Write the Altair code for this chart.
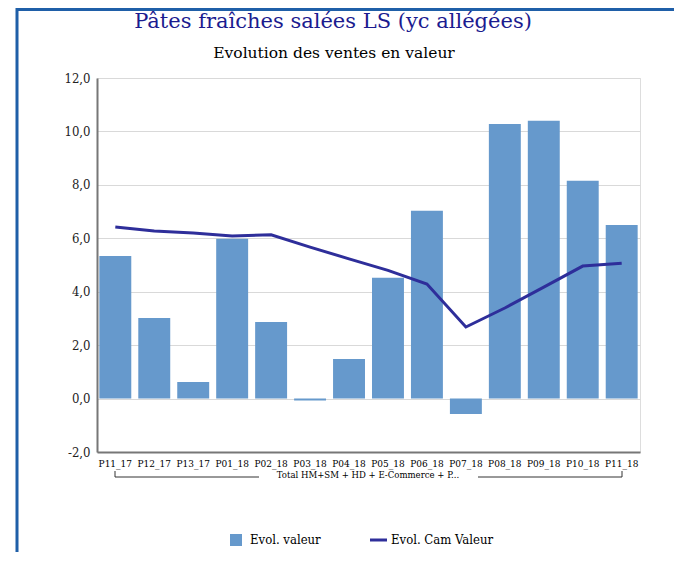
import altair as alt
import pandas as pd

periods = ["P11_17", "P12_17", "P13_17", "P01_18", "P02_18", "P03_18", "P04_18",
           "P05_18", "P06_18", "P07_18", "P08_18", "P09_18", "P10_18", "P11_18"]
evol_valeur = [5.34, 3.02, 0.62, 5.98, 2.87, -0.07, 1.48, 4.52, 7.03, -0.58, 10.28, 10.40, 8.15, 6.50]
evol_cam_valeur = [6.42, 6.27, 6.20, 6.09, 6.13, 5.67, 5.23, 4.80, 4.29, 2.68, 3.39, 4.17, 4.96, 5.07]
y_ticks = [-2, 0, 2, 4, 6, 8, 10, 12]

title_text = "Pâtes fraîches salées LS (yc allégées)"
subtitle_text = "Evolution des ventes en valeur"
group_text = "Total HM+SM + HD + E-Commerce + P..."
legend_bar = "Evol.  valeur"
legend_line = "Evol. Cam Valeur"

df = pd.DataFrame({"periode": periods, "valeur": evol_valeur, "cam": evol_cam_valeur})

W, H = 543, 374
BAR = "#6699cc"
LINE = "#2e2e9a"
FRAME = "#1f5fa8"
SERIF = "DejaVu Serif Condensed, DejaVu Serif, serif"
TSERIF = "DejaVu Serif"

x_enc = alt.X("periode:N", sort=periods, title=None,
              scale=alt.Scale(paddingInner=0.18, paddingOuter=0.06),
              axis=alt.Axis(labelAngle=0, labelFont=SERIF, labelFontSize=10,
                            labelColor="black", ticks=False, domainColor="#777777",
                            domainWidth=2, labelPadding=6, labelOverlap=False))
y_scale = alt.Scale(domain=[-2, 12], nice=False)
y_axis = alt.Axis(values=y_ticks, title=None, labelFont=SERIF, labelFontSize=13,
                  labelColor="#222222", ticks=False, labelPadding=7,
                  domainColor="#777777", domainWidth=2,
                  gridColor="#d9d9d9", gridWidth=1.2,
                  labelExpr="replace(replace(format(datum.value, '.1f'), '.', ','), '\u2212', '-')")

base = alt.Chart(df)
bars = base.mark_bar(color=BAR).encode(
    x=x_enc,
    y=alt.Y("valeur:Q", scale=y_scale, axis=y_axis),
)
line = base.mark_line(color=LINE, strokeWidth=3).encode(
    x=alt.X("periode:N", sort=periods),
    y=alt.Y("cam:Q", scale=y_scale),
)

one = alt.Data(values=[{"k": 1}])

def rule(x, x2, y, y2, color, w):
    return alt.Chart(one).mark_rule(color=color, strokeWidth=w).encode(
        x=alt.value(x), x2=alt.value(x2), y=alt.value(y), y2=alt.value(y2))

def text(s, x, y, size, color="black", font=SERIF, align="center"):
    return alt.Chart(one).mark_text(text=s, font=font, fontSize=size, color=color,
                                    align=align, baseline="middle").encode(
        x=alt.value(x), y=alt.value(y))

decor = [
    # frame
    rule(-80, -80, -70, 480, FRAME, 3),
    rule(-80, 600, -68.5, -68.5, FRAME, 3),
    # titles
    text(title_text, 236, -56, 21, color="#1b1b8f", font=TSERIF),
    text(subtitle_text, 237, -25, 15.5, font=TSERIF),
    # group bracket
    rule(18, 162, 399, 399, "#333333", 1),
    rule(381, 525, 399, 399, "#333333", 1),
    rule(18, 18, 393, 399, "#333333", 1),
    rule(525, 525, 393, 399, "#333333", 1),
    text(group_text, 271, 397, 9.5),
    # legend
    rule(273, 290, 462, 462, LINE, 3),
    text(legend_bar, 153, 462, 13, align="left"),
    text(legend_line, 294, 462, 13, align="left"),
]

legend_sq = alt.Chart(one).mark_square(color=BAR, size=144, opacity=1, filled=True).encode(
    x=alt.value(139), y=alt.value(462))

chart = alt.layer(bars, line, *decor, legend_sq).properties(
    width=W, height=H,
    padding={"left": 89, "top": 70, "right": 34, "bottom": 100},
    autosize=alt.AutoSizeParams(type="none"),
).configure_view(stroke=None).configure(background="white")

chart.save("out.html", embed_options={"renderer": "svg", "actions": False})
